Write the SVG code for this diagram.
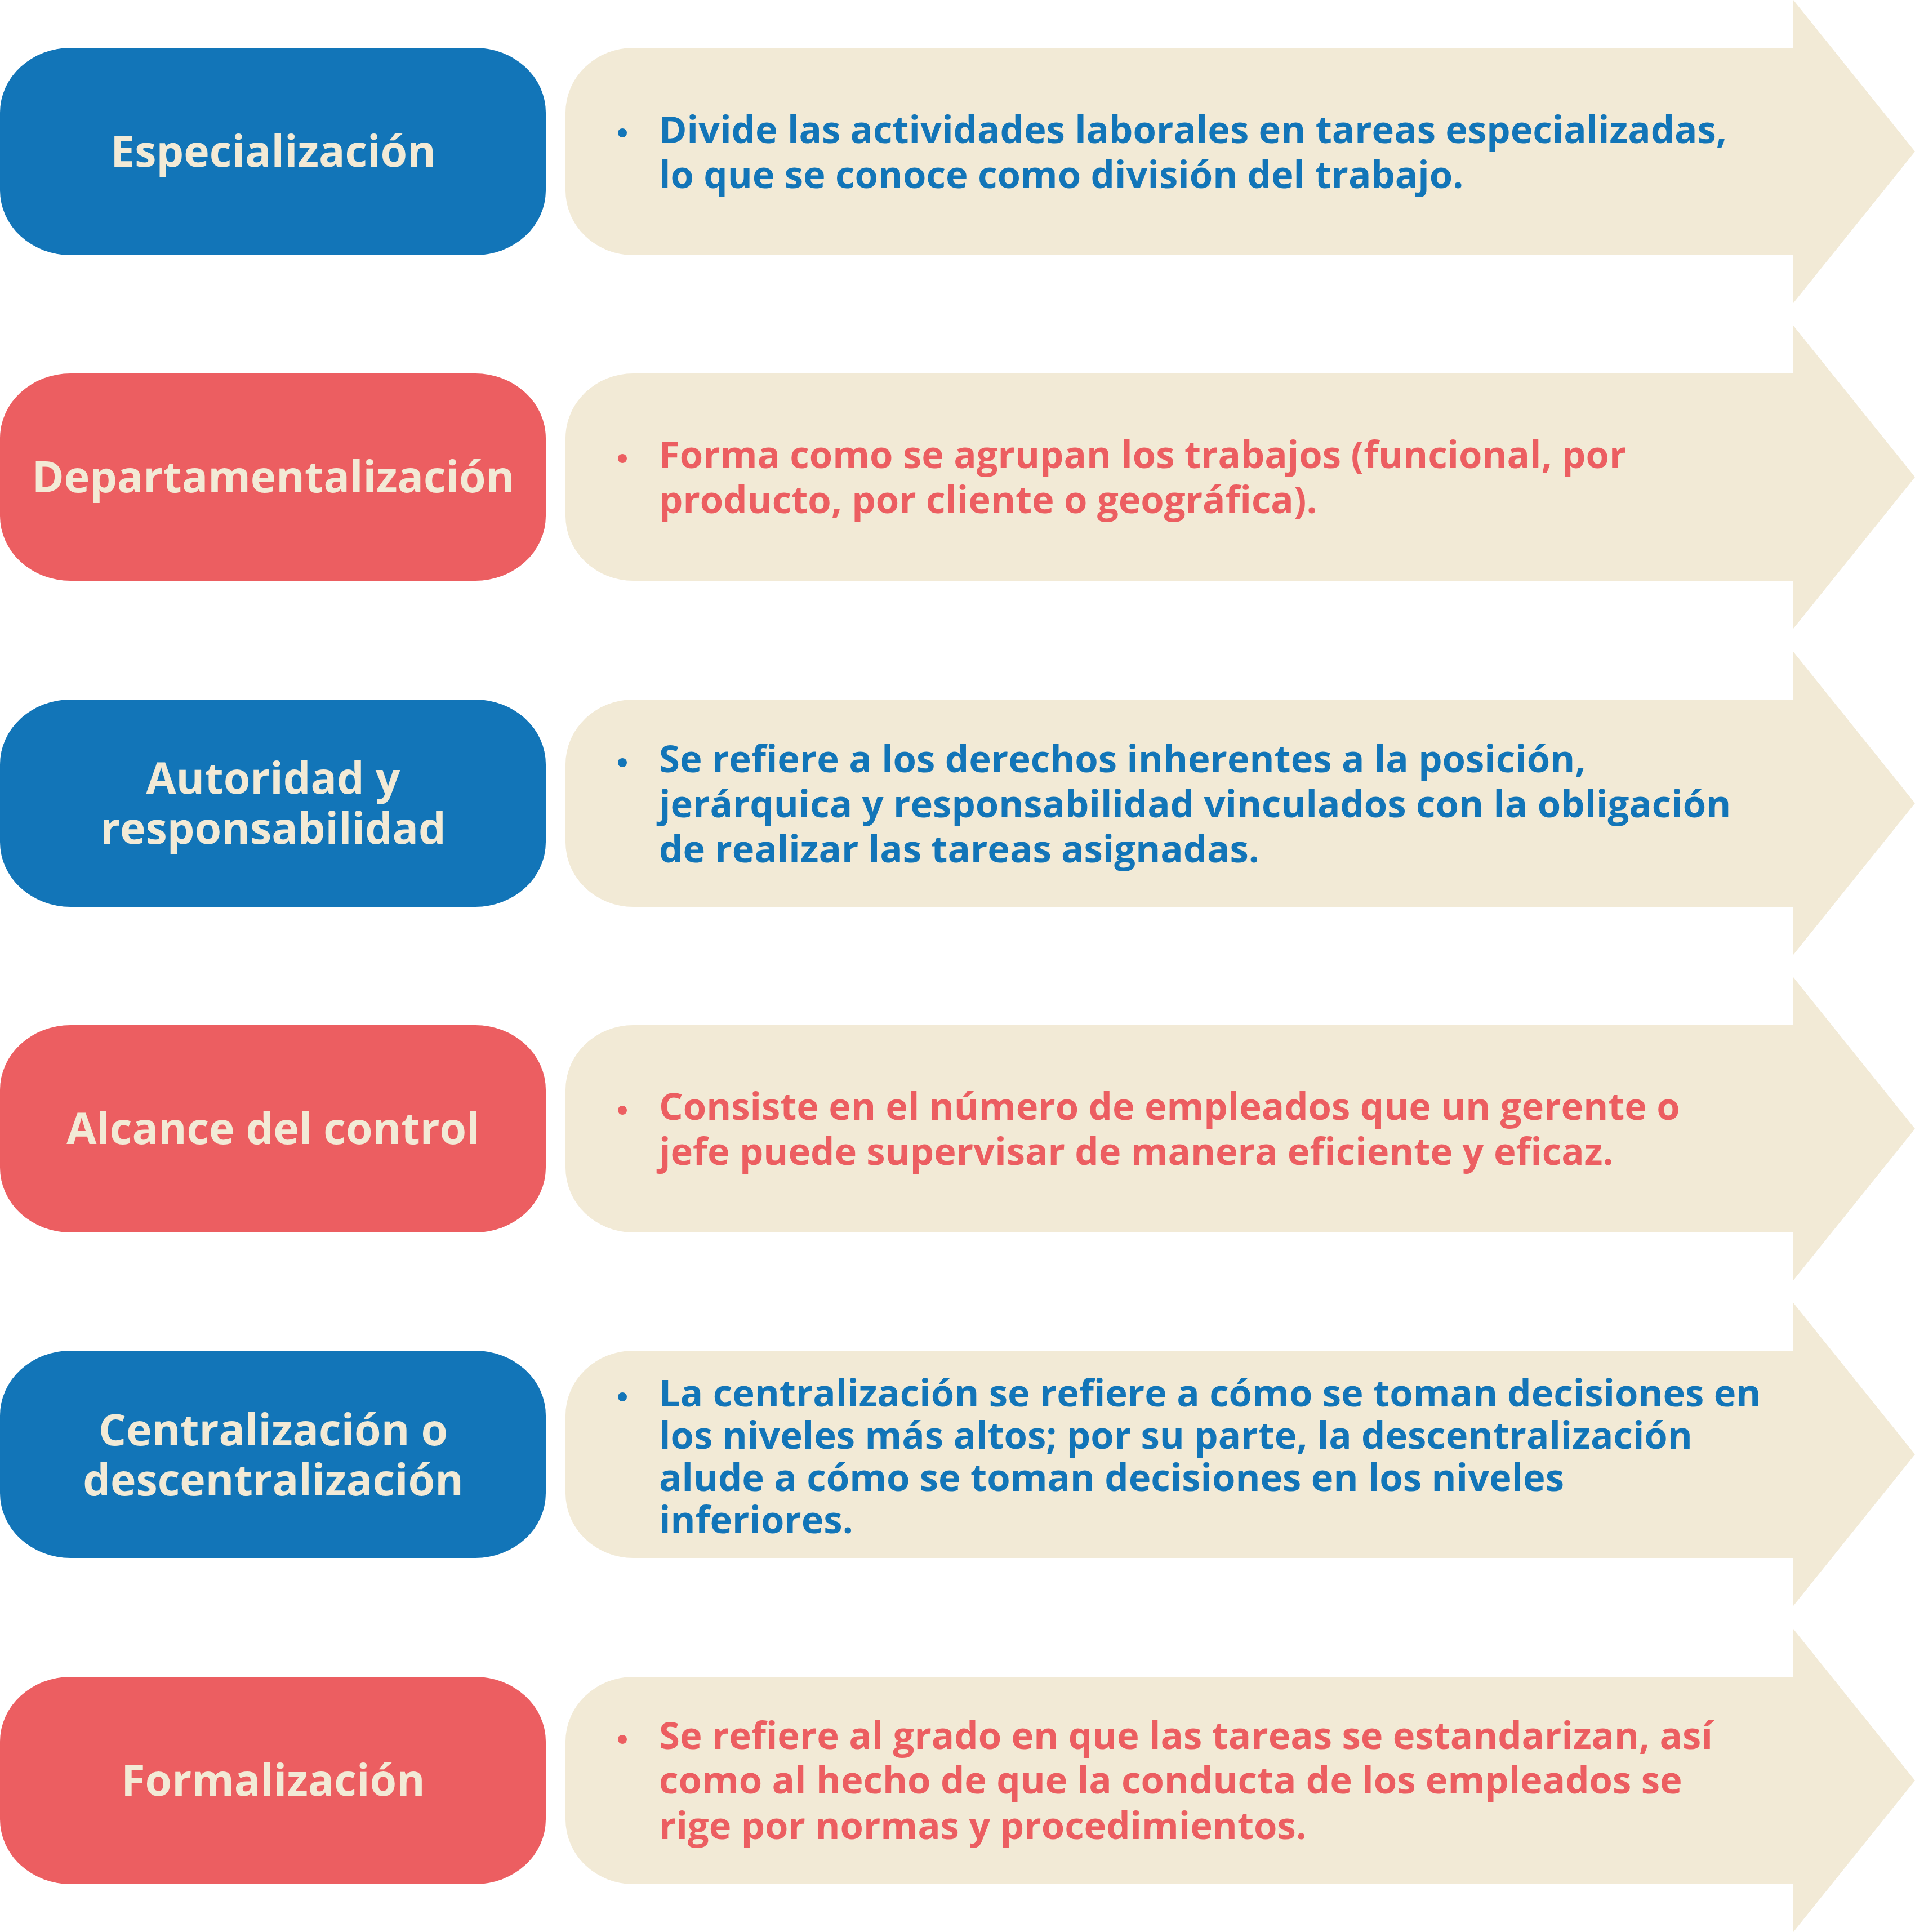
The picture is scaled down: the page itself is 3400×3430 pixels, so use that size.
<svg xmlns="http://www.w3.org/2000/svg" width="3400" height="3430" viewBox="0 0 3400 3430">
<style>
.pill-blue{fill:#1275b8}
.pill-red{fill:#ec5e61}
.arrow{fill:#f2ead6}
.label{font-family:"Open Sans","Liberation Sans",sans-serif;font-weight:700;font-size:77px;fill:#f2ead6;text-anchor:middle}
.body{font-family:"Open Sans","Liberation Sans",sans-serif;font-weight:700;font-size:67px}
.tb{fill:#1275b8}
.tr{fill:#ec5e61}
</style>
<defs>
<path id="arrowShape" d="M1124 0 H3184 V-85 L3400 184 L3184 453 V368 H1124 A120 115 0 0 1 1004 253 V115 A120 115 0 0 1 1124 0 Z"/>
</defs>
<rect width="3400" height="3430" fill="#ffffff"/>
<g id="connectors"/>

<g id="row1" transform="translate(0,85)">
<g id="especializacion"><rect class="pill-blue" x="0" y="0" width="969" height="368" rx="125" ry="115"/>
<text class="label" x="485" y="211">Especialización</text></g>
<g id="desc-especializacion"><use href="#arrowShape" class="arrow"/>
<circle class="tb" cx="1105" cy="151" r="8"/>
<text class="body tb" x="1170"><tspan x="1170" y="169">Divide las actividades laborales en tareas especializadas,</tspan><tspan x="1170" y="249">lo que se conoce como división del trabajo.</tspan></text></g>
</g>

<g id="row2" transform="translate(0,663)">
<g id="departamentalizacion"><rect class="pill-red" x="0" y="0" width="969" height="368" rx="125" ry="115"/>
<text class="label" x="485" y="211">Departamentalización</text></g>
<g id="desc-departamentalizacion"><use href="#arrowShape" class="arrow"/>
<circle class="tr" cx="1105" cy="151" r="8"/>
<text class="body tr"><tspan x="1170" y="168">Forma como se agrupan los trabajos (funcional, por</tspan><tspan x="1170" y="248">producto, por cliente o geográfica).</tspan></text></g>
</g>

<g id="row3" transform="translate(0,1242)">
<g id="autoridad"><rect class="pill-blue" x="0" y="0" width="969" height="368" rx="125" ry="115"/>
<text class="label"><tspan x="485" y="167">Autoridad y</tspan><tspan x="485" y="256">responsabilidad</tspan></text></g>
<g id="desc-autoridad"><use href="#arrowShape" class="arrow"/>
<circle class="tb" cx="1105" cy="112" r="8"/>
<text class="body tb"><tspan x="1170" y="129">Se refiere a los derechos inherentes a la posición,</tspan><tspan x="1170" y="209">jerárquica y responsabilidad vinculados con la obligación</tspan><tspan x="1170" y="289">de realizar las tareas asignadas.</tspan></text></g>
</g>

<g id="row4" transform="translate(0,1820)">
<g id="alcance"><rect class="pill-red" x="0" y="0" width="969" height="368" rx="125" ry="115"/>
<text class="label" x="485" y="211">Alcance del control</text></g>
<g id="desc-alcance"><use href="#arrowShape" class="arrow"/>
<circle class="tr" cx="1105" cy="151" r="8"/>
<text class="body tr"><tspan x="1170" y="168">Consiste en el número de empleados que un gerente o</tspan><tspan x="1170" y="248">jefe puede supervisar de manera eficiente y eficaz.</tspan></text></g>
</g>

<g id="row5" transform="translate(0,2398)">
<g id="centralizacion"><rect class="pill-blue" x="0" y="0" width="969" height="368" rx="125" ry="115"/>
<text class="label"><tspan x="485" y="168">Centralización o</tspan><tspan x="485" y="257">descentralización</tspan></text></g>
<g id="desc-centralizacion"><use href="#arrowShape" class="arrow"/>
<circle class="tb" cx="1105" cy="82" r="8"/>
<text class="body tb"><tspan x="1170" y="99">La centralización se refiere a cómo se toman decisiones en</tspan><tspan x="1170" y="174">los niveles más altos; por su parte, la descentralización</tspan><tspan x="1170" y="249">alude a cómo se toman decisiones en los niveles</tspan><tspan x="1170" y="324">inferiores.</tspan></text></g>
</g>

<g id="row6" transform="translate(0,2977)">
<g id="formalizacion"><rect class="pill-red" x="0" y="0" width="969" height="368" rx="125" ry="115"/>
<text class="label" x="485" y="211">Formalización</text></g>
<g id="desc-formalizacion"><use href="#arrowShape" class="arrow"/>
<circle class="tr" cx="1105" cy="111" r="8"/>
<text class="body tr"><tspan x="1170" y="128">Se refiere al grado en que las tareas se estandarizan, así</tspan><tspan x="1170" y="207">como al hecho de que la conducta de los empleados se</tspan><tspan x="1170" y="288">rige por normas y procedimientos.</tspan></text></g>
</g>
</svg>
